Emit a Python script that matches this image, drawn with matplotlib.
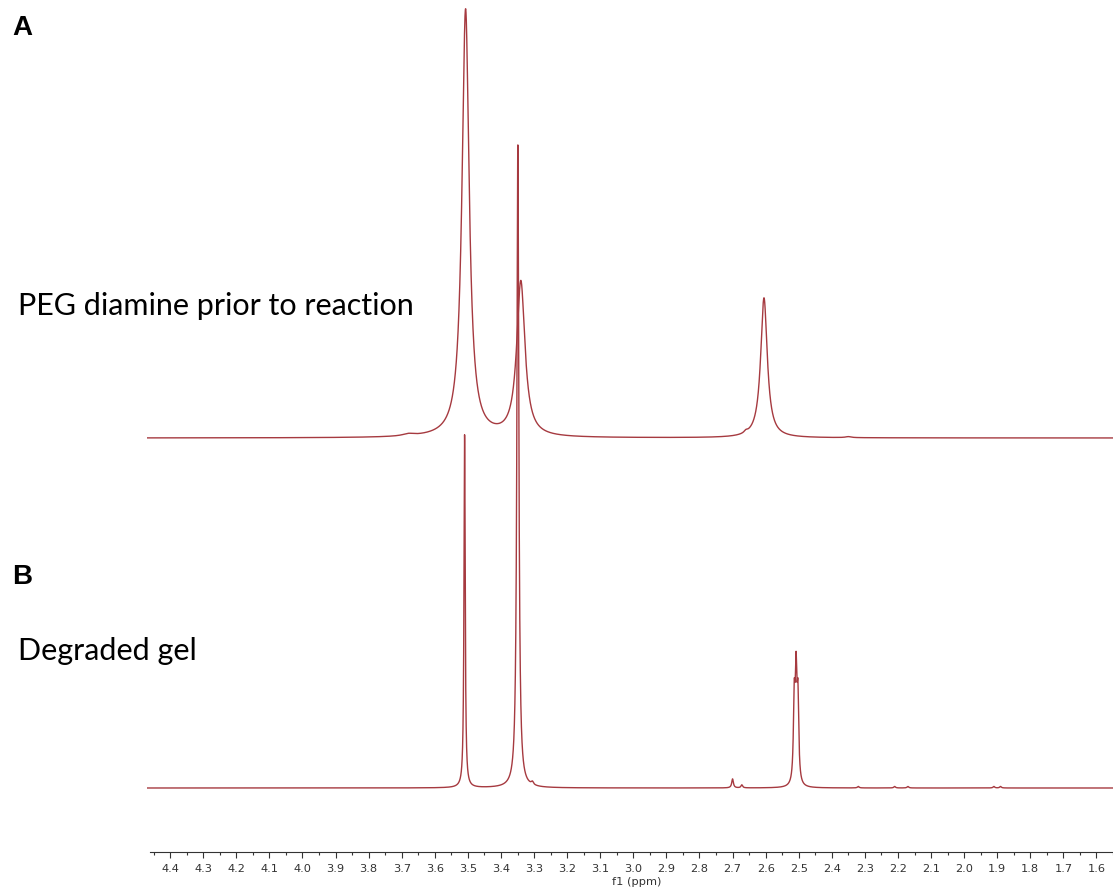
import matplotlib
matplotlib.use('Agg')
import matplotlib.pyplot as plt
import numpy as np

plt.rcParams['font.family'] = 'sans-serif'
plt.rcParams['font.sans-serif'] = ['DejaVu Sans']

# Data: peak lists (ppm, height in px above baseline, half-width in ppm)
a_center = [3.507, 3.340, 2.605, 3.680, 2.660, 2.350]
a_height = [428, 155, 140, 2.0, 2.0, 1.0]
a_width = [0.013, 0.015, 0.012, 0.020, 0.006, 0.010]

b_center = [3.510, 3.349, 2.5135, 2.508, 2.5025, 2.700, 2.672, 3.305, 2.320, 2.210, 2.170, 1.910, 1.890]
b_height = [353, 643, 80, 100, 80, 9.0, 3.0, 3.0, 1.5, 1.5, 1.5, 1.5, 1.5]
b_width = [0.0022, 0.0035, 0.003, 0.003, 0.003, 0.003, 0.003, 0.004, 0.003, 0.003, 0.003, 0.003, 0.003]

# baselines (px above the ppm axis line)
a_base = 414
b_base = 64

tick_major = np.round(np.arange(1.6, 4.45, 0.1), 1)
tick_minor = np.round(np.arange(1.55, 4.46, 0.05), 2)

ppm = np.linspace(4.47, 1.55, 30000)


def spectrum(centers, heights, widths):
    y = np.zeros_like(ppm)
    for c, h, w in zip(centers, heights, widths):
        y += h / (1 + ((ppm - c) / w) ** 2)
    return y


spec_a = a_base + spectrum(a_center, a_height, a_width)
spec_b = b_base + spectrum(b_center, b_height, b_width)

line_color = '#a63a40'

fig = plt.figure(figsize=(11.13, 8.9), dpi=100)
ax = fig.add_axes([147 / 1113, 38 / 890, 966 / 1113, 852 / 890])

ax.plot(ppm, spec_a, color=line_color, lw=1.0)
ax.plot(ppm, spec_b, color=line_color, lw=1.0)

ax.set_xlim(4.47, 1.55)
ax.set_ylim(0, 852)

# Only the bottom ppm axis is shown
for spine in ['top', 'right', 'left']:
    ax.spines[spine].set_visible(False)
ax.spines['bottom'].set_bounds(4.46, 1.55)
ax.spines['bottom'].set_color('#333333')
ax.spines['bottom'].set_linewidth(0.8)
ax.set_yticks([])

ax.set_xticks(tick_major)
ax.set_xticklabels([f'{t:.1f}' for t in tick_major])
ax.set_xticks(tick_minor, minor=True)
ax.tick_params(axis='x', which='major', direction='out', length=4, width=0.8,
               colors='#333333', labelsize=8.2, pad=5)
ax.tick_params(axis='x', which='minor', direction='out', length=2, width=0.8,
               colors='#333333')

fig.text(637 / 1113, 1 - 882 / 890, 'f1 (ppm)', ha='center', va='center',
         fontsize=8.2, color='#333333')

# Panel labels and captions
fig.text(12 / 1113, 1 - 28 / 890, 'A', ha='left', va='center', fontsize=20,
         fontweight='bold', family='Liberation Sans')
fig.text(12 / 1113, 1 - 577 / 890, 'B', ha='left', va='center', fontsize=20,
         fontweight='bold', family='Liberation Sans')
fig.text(18 / 1113, 1 - 315 / 890, 'PEG diamine prior to reaction', ha='left',
         va='baseline', fontsize=22, family='Lato')
fig.text(18 / 1113, 1 - 660 / 890, 'Degraded gel', ha='left',
         va='baseline', fontsize=22, family='Lato')

fig.savefig('out.png', dpi=100)
